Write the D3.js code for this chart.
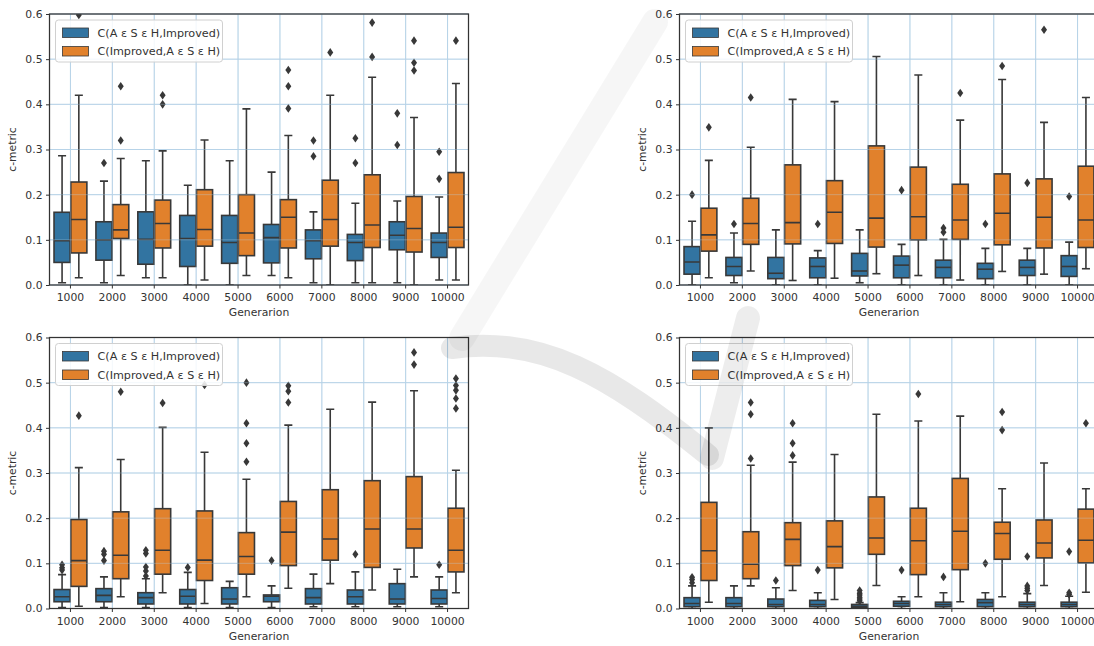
<!DOCTYPE html>
<html>
<head>
<meta charset="utf-8">
<script src="https://cdn.jsdelivr.net/npm/d3@7"></script>
<style>
  body { margin: 0; background: #fff; }
  svg { display: block; }
  text { font-family: "DejaVu Sans", "Liberation Sans", sans-serif; }
</style>
</head>
<body>
<svg id="chart" width="1094" height="646"></svg>
<script>
// ---- data -------------------------------------------------------------
const generations = ["1000", "2000", "3000", "4000", "5000", "6000", "7000", "8000", "9000", "10000"];
const seriesNames = ["C(A \u03b5 S \u03b5 H,Improved)", "C(Improved,A \u03b5 S \u03b5 H)"];
const yTicks = [0.0, 0.1, 0.2, 0.3, 0.4, 0.5, 0.6];
const xTitle = "Generarion";
const yTitle = "c-metric";

// Box statistics per generation: [lower whisker, Q1, median, Q3, upper whisker]
const topLeftA = [
  [0.005, 0.050, 0.098, 0.161, 0.286], [0.005, 0.055, 0.100, 0.140, 0.230],
  [0.016, 0.046, 0.101, 0.162, 0.275], [0.000, 0.041, 0.103, 0.154, 0.221],
  [0.000, 0.048, 0.094, 0.154, 0.275], [0.021, 0.049, 0.105, 0.134, 0.250],
  [0.005, 0.058, 0.098, 0.122, 0.162], [0.005, 0.054, 0.094, 0.112, 0.181],
  [0.005, 0.078, 0.110, 0.140, 0.186], [0.011, 0.061, 0.094, 0.115, 0.195]
];
const topLeftAOut = [[], [0.27], [], [], [], [], [0.285, 0.32], [0.27, 0.325], [0.31, 0.38], [0.235, 0.295]];
const topLeftB = [
  [0.016, 0.071, 0.145, 0.228, 0.420], [0.021, 0.103, 0.122, 0.178, 0.280],
  [0.016, 0.082, 0.136, 0.188, 0.297], [0.011, 0.086, 0.123, 0.211, 0.321],
  [0.021, 0.065, 0.115, 0.200, 0.390], [0.016, 0.082, 0.150, 0.189, 0.331],
  [0.000, 0.086, 0.145, 0.232, 0.420], [0.005, 0.083, 0.133, 0.244, 0.460],
  [0.000, 0.073, 0.125, 0.196, 0.371], [0.011, 0.083, 0.128, 0.249, 0.446]
];
const topLeftBOut = [[0.598], [0.32, 0.44], [0.40, 0.42], [], [], [0.391, 0.44, 0.476], [0.515], [0.505, 0.581], [0.475, 0.492, 0.541], [0.541]];

const topRightA = [
  [0.000, 0.024, 0.051, 0.085, 0.141], [0.005, 0.021, 0.041, 0.061, 0.115],
  [0.000, 0.014, 0.026, 0.061, 0.122], [0.000, 0.016, 0.041, 0.060, 0.076],
  [0.005, 0.020, 0.031, 0.070, 0.122], [0.000, 0.016, 0.044, 0.064, 0.090],
  [0.000, 0.016, 0.039, 0.055, 0.101], [0.000, 0.014, 0.035, 0.048, 0.081],
  [0.000, 0.021, 0.039, 0.055, 0.081], [0.000, 0.019, 0.041, 0.065, 0.095]
];
const topRightAOut = [[0.2], [0.135], [], [0.135], [], [0.21], [0.117, 0.126], [0.135], [0.226], [0.196]];
const topRightB = [
  [0.016, 0.075, 0.111, 0.170, 0.276], [0.031, 0.090, 0.136, 0.192, 0.305],
  [0.010, 0.091, 0.138, 0.266, 0.411], [0.015, 0.092, 0.161, 0.231, 0.406],
  [0.025, 0.084, 0.148, 0.308, 0.506], [0.021, 0.100, 0.151, 0.261, 0.465],
  [0.011, 0.101, 0.144, 0.223, 0.365], [0.030, 0.089, 0.159, 0.246, 0.455],
  [0.024, 0.082, 0.150, 0.235, 0.360], [0.036, 0.083, 0.144, 0.263, 0.415]
];
const topRightBOut = [[0.349], [0.415], [], [], [], [], [0.425], [0.485], [0.565], []];

const bottomLeftA = [
  [0.002, 0.015, 0.026, 0.042, 0.075], [0.002, 0.015, 0.029, 0.044, 0.070],
  [0.002, 0.010, 0.024, 0.035, 0.066], [0.002, 0.010, 0.027, 0.042, 0.080],
  [0.002, 0.010, 0.021, 0.046, 0.060], [0.002, 0.015, 0.027, 0.030, 0.050],
  [0.004, 0.010, 0.024, 0.044, 0.076], [0.004, 0.010, 0.026, 0.041, 0.081],
  [0.004, 0.010, 0.021, 0.055, 0.087], [0.004, 0.010, 0.022, 0.041, 0.070]
];
const bottomLeftAOut = [[0.085, 0.090, 0.097], [0.106, 0.120, 0.127], [0.072, 0.083, 0.092, 0.122, 0.129], [0.091], [], [0.106], [], [0.120], [], [0.097]];
const bottomLeftB = [
  [0.005, 0.049, 0.106, 0.197, 0.312], [0.026, 0.066, 0.118, 0.214, 0.330],
  [0.035, 0.076, 0.129, 0.221, 0.401], [0.011, 0.062, 0.107, 0.216, 0.346],
  [0.026, 0.076, 0.115, 0.168, 0.286], [0.045, 0.095, 0.169, 0.237, 0.406],
  [0.055, 0.107, 0.154, 0.263, 0.441], [0.041, 0.091, 0.176, 0.283, 0.457],
  [0.070, 0.134, 0.176, 0.292, 0.482], [0.035, 0.081, 0.129, 0.222, 0.306]
];
const bottomLeftBOut = [[0.427], [0.480], [0.455], [0.495], [0.325, 0.366, 0.410, 0.500], [0.456, 0.481, 0.493], [], [], [0.540, 0.567], [0.443, 0.465, 0.483, 0.494, 0.509]];

const bottomRightA = [
  [0.000, 0.004, 0.011, 0.024, 0.050], [0.000, 0.004, 0.011, 0.024, 0.050],
  [0.000, 0.004, 0.009, 0.021, 0.046], [0.000, 0.004, 0.009, 0.018, 0.035],
  [0.000, 0.002, 0.005, 0.009, 0.013], [0.000, 0.005, 0.011, 0.016, 0.026],
  [0.000, 0.004, 0.009, 0.014, 0.035], [0.000, 0.004, 0.013, 0.020, 0.035],
  [0.000, 0.004, 0.009, 0.014, 0.033], [0.000, 0.004, 0.009, 0.014, 0.027]
];
const bottomRightAOut = [[0.057, 0.064, 0.069], [], [0.062], [0.085], [0.017, 0.021, 0.025, 0.030, 0.034, 0.040], [0.085], [0.070], [0.100], [0.040, 0.045, 0.050, 0.115], [0.031, 0.035, 0.126]];
const bottomRightB = [
  [0.014, 0.062, 0.128, 0.235, 0.400], [0.050, 0.066, 0.098, 0.170, 0.317],
  [0.040, 0.095, 0.153, 0.190, 0.324], [0.020, 0.090, 0.137, 0.194, 0.341],
  [0.051, 0.120, 0.156, 0.247, 0.430], [0.026, 0.075, 0.150, 0.222, 0.415],
  [0.015, 0.086, 0.171, 0.288, 0.426], [0.026, 0.109, 0.166, 0.191, 0.265],
  [0.051, 0.112, 0.145, 0.196, 0.322], [0.036, 0.101, 0.151, 0.220, 0.265]
];
const bottomRightBOut = [[], [0.332, 0.430, 0.456], [0.339, 0.366, 0.410], [], [], [0.475], [], [0.395, 0.435], [], [0.410]];

// ---- layout & style ---------------------------------------------------
const colors = ["#3274a1", "#e1812c"];
const lineColor = "#383838";
const gridColor = "#b7d3e8";
const plotW = 419, plotH = 271;

const panels = [
  { left: 49.5, top: 14, boxes: [topLeftA, topLeftB], fliers: [topLeftAOut, topLeftBOut] },
  { left: 679.5, top: 14, boxes: [topRightA, topRightB], fliers: [topRightAOut, topRightBOut] },
  { left: 49.5, top: 337.5, boxes: [bottomLeftA, bottomLeftB], fliers: [bottomLeftAOut, bottomLeftBOut] },
  { left: 679.5, top: 337.5, boxes: [bottomRightA, bottomRightB], fliers: [bottomRightAOut, bottomRightBOut] }
];

const svg = d3.select("#chart");
svg.append("rect").attr("width", 1094).attr("height", 646).attr("fill", "#fff");

const diamond = (h, w) => `M0,${-h}L${w},0L0,${h}L${-w},0Z`;

panels.forEach((p, pi) => {
  const x = d3.scaleBand().domain(generations).range([0, plotW]);
  const y = d3.scaleLinear().domain([0, 0.6]).range([plotH, 0]);
  const bw = x.bandwidth();
  const boxW = bw * 0.4 * 0.96;

  const g = svg.append("g").attr("transform", `translate(${p.left},${p.top})`);
  const clipId = `clip-${pi}`;
  g.append("clipPath").attr("id", clipId)
    .append("rect").attr("width", plotW).attr("height", plotH);

  g.append("rect").attr("width", plotW).attr("height", plotH).attr("fill", "#fff");

  // grid lines
  const grid = (layer, opacity) => {
    layer.selectAll(null).data(yTicks).join("line")
      .attr("x1", 0).attr("x2", plotW)
      .attr("y1", d => y(d)).attr("y2", d => y(d))
      .attr("stroke", gridColor).attr("stroke-width", 1).attr("opacity", opacity);
    layer.selectAll(null).data(generations).join("line")
      .attr("x1", d => x(d) + bw / 2).attr("x2", d => x(d) + bw / 2)
      .attr("y1", 0).attr("y2", plotH)
      .attr("stroke", gridColor).attr("stroke-width", 1).attr("opacity", opacity);
  };
  grid(g.append("g"), 1);

  const plot = g.append("g").attr("clip-path", `url(#${clipId})`);

  p.boxes.forEach((stats, si) => {
    const cx = d => x(generations[d]) + bw * (0.3 + 0.4 * si);
    const sg = plot.append("g");
    stats.forEach((s, i) => {
      const [lo, q1, med, q3, hi] = s;
      const c = cx(i);
      const bgrp = sg.append("g")
        .attr("stroke", lineColor).attr("stroke-width", 1.6).attr("fill", "none");
      // whiskers
      bgrp.append("line").attr("x1", c).attr("x2", c).attr("y1", y(q3)).attr("y2", y(hi));
      bgrp.append("line").attr("x1", c).attr("x2", c).attr("y1", y(q1)).attr("y2", y(lo));
      // caps
      bgrp.append("line").attr("x1", c - boxW / 4).attr("x2", c + boxW / 4).attr("y1", y(hi)).attr("y2", y(hi));
      bgrp.append("line").attr("x1", c - boxW / 4).attr("x2", c + boxW / 4).attr("y1", y(lo)).attr("y2", y(lo));
      // box
      bgrp.append("rect")
        .attr("x", c - boxW / 2).attr("width", boxW)
        .attr("y", y(q3)).attr("height", y(q1) - y(q3))
        .attr("fill", colors[si]);
      // median
      bgrp.append("line").attr("x1", c - boxW / 2).attr("x2", c + boxW / 2).attr("y1", y(med)).attr("y2", y(med));
      // outliers
      sg.selectAll(null).data(p.fliers[si][i]).join("path")
        .attr("d", diamond(4.3, 3))
        .attr("transform", d => `translate(${c},${y(d)})`)
        .attr("fill", lineColor);
    });
  });

  // faint grid over the boxes as well
  grid(g.append("g"), 0.35);

  // axes
  const yAxis = g.append("g")
    .call(d3.axisLeft(y).tickValues(yTicks).tickFormat(d3.format(".1f")).tickSize(3.5).tickPadding(3.5));
  const xAxis = g.append("g").attr("transform", `translate(0,${plotH})`)
    .call(d3.axisBottom(x).tickSize(3.5).tickPadding(5));
  [yAxis, xAxis].forEach(a => {
    a.select(".domain").remove();
    a.selectAll(".tick line").attr("stroke", "#333").attr("stroke-width", 1);
    a.selectAll(".tick text").attr("fill", "#333").attr("font-size", 10.8)
      .style("font-family", "\"DejaVu Sans\", sans-serif");
  });

  // frame
  g.append("rect").attr("width", plotW).attr("height", plotH)
    .attr("fill", "none").attr("stroke", "#333").attr("stroke-width", 1.25);

  // axis titles
  g.append("text").attr("x", plotW / 2).attr("y", plotH + 31)
    .attr("text-anchor", "middle").attr("font-size", 10.8).attr("fill", "#333").text(xTitle);
  g.append("text").attr("transform", `translate(${-34},${plotH / 2}) rotate(-90)`)
    .attr("text-anchor", "middle").attr("font-size", 10.8).attr("fill", "#333").text(yTitle);

  // legend
  const lg = g.append("g").attr("transform", "translate(6,6)");
  lg.append("rect").attr("width", 167).attr("height", 42).attr("rx", 3)
    .attr("fill", "#fff").attr("fill-opacity", 0.85).attr("stroke", "#d0d0d0");
  seriesNames.forEach((name, si) => {
    const row = lg.append("g").attr("transform", `translate(7,${8 + si * 18.5})`);
    row.append("rect").attr("width", 26).attr("height", 9.5)
      .attr("fill", colors[si]).attr("stroke", lineColor).attr("stroke-width", 0.8);
    row.append("text").attr("x", 35).attr("y", 8.8)
      .attr("font-size", 11.2).attr("fill", "#333").text(name);
  });
});

// ---- faint publisher swoosh behind-the-glass overlay -----------------
const wm = svg.append("g").attr("pointer-events", "none").attr("fill", "none")
  .attr("stroke", "#000").attr("stroke-linecap", "round");
wm.append("path").attr("d", "M655,22 L462,338")
  .attr("stroke-opacity", 0.035).attr("stroke-width", 26);
wm.append("path").attr("d", "M452,348 C540,335 610,375 708,455")
  .attr("stroke-opacity", 0.09).attr("stroke-width", 22);
wm.append("path").attr("d", "M712,458 L748,318")
  .attr("stroke-opacity", 0.07).attr("stroke-width", 24);
</script>
</body>
</html>
